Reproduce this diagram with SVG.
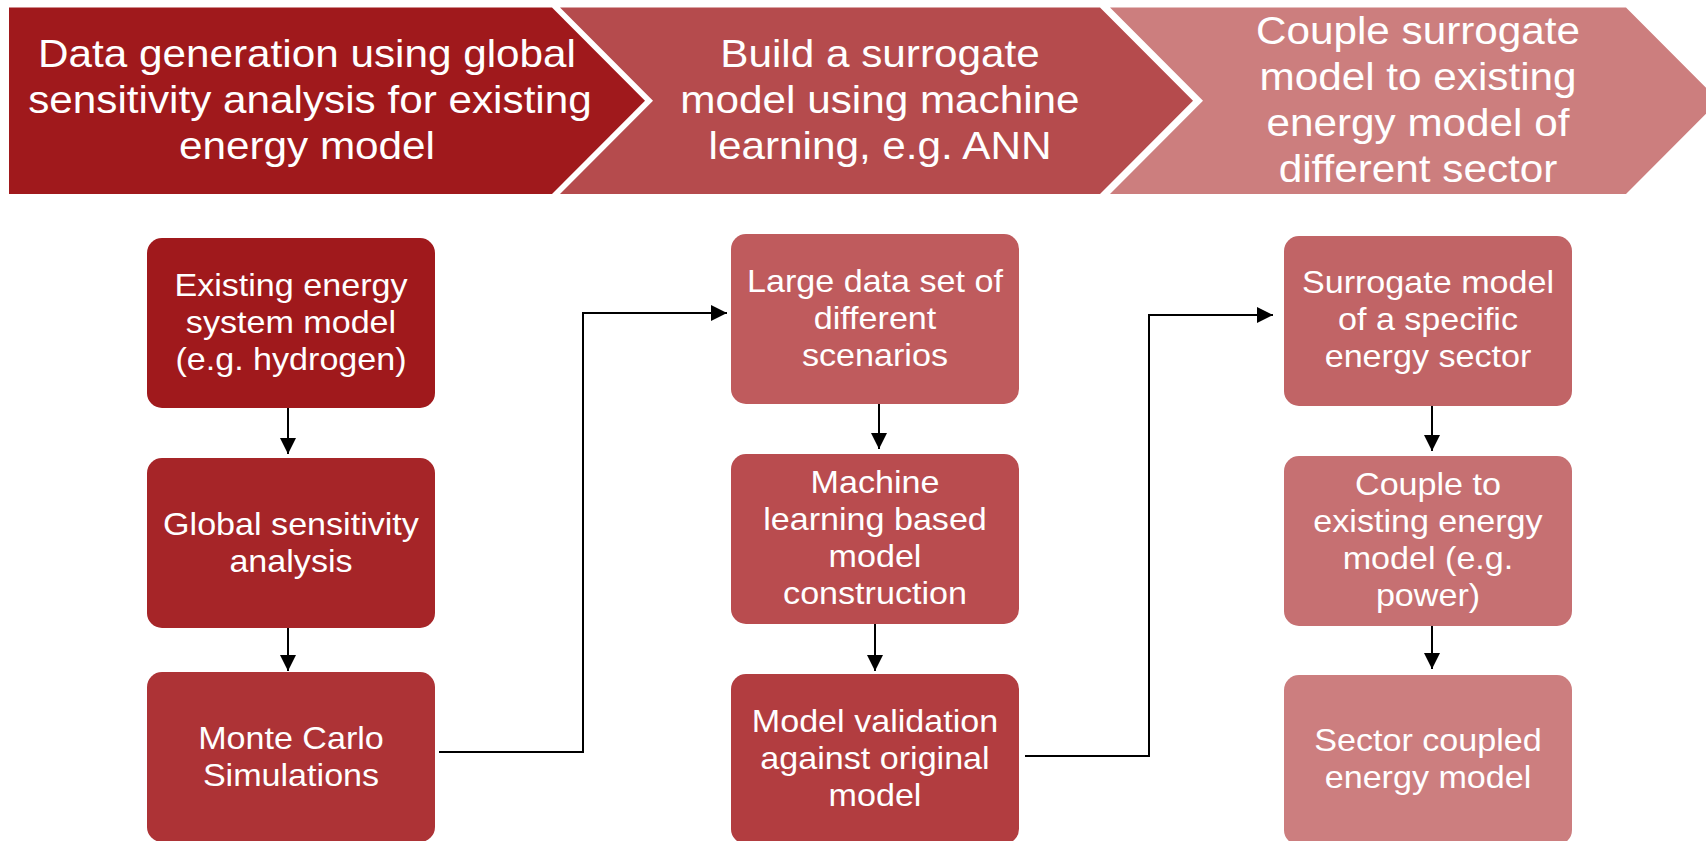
<svg xmlns="http://www.w3.org/2000/svg" width="1706" height="841" viewBox="0 0 1706 841">
  <style>
    text { font-family: "Liberation Sans", Arial, sans-serif; fill: #ffffff; text-anchor: middle; transform-box: fill-box; transform-origin: center; }
    .hdr { font-size: 39.5px; transform: scaleX(1.07); }
    .lbl { font-size: 31px; transform: scaleX(1.1); }
    .wire { fill: none; stroke: #000000; stroke-width: 2; }
  </style>
  <defs>
    <marker id="arrow" markerUnits="userSpaceOnUse" markerWidth="16" markerHeight="16" refX="16" refY="8" orient="auto">
      <path d="M0,0 L16,8 L0,16 Z" fill="#000000"/>
    </marker>
  </defs>

  <rect width="1706" height="841" fill="#ffffff"/>

  <!-- Process banner: three chevron stages -->
  <g id="stage-1">
    <path d="M9,7.5 L552,7.5 L645,100.75 L552,194 L9,194 Z" fill="#A0191C"/>
    <text class="hdr" x="307" y="67">Data generation using global</text>
    <text class="hdr" x="310" y="113">sensitivity analysis for existing</text>
    <text class="hdr" x="307" y="159">energy model</text>
  </g>
  <g id="stage-2">
    <path d="M560,7.5 L1100,7.5 L1193,100.75 L1100,194 L560,194 L653,100.75 Z" fill="#B54B4D"/>
    <text class="hdr" x="880" y="67">Build a surrogate</text>
    <text class="hdr" x="880" y="113">model using machine</text>
    <text class="hdr" x="880" y="159">learning, e.g. ANN</text>
  </g>
  <g id="stage-3">
    <path d="M1110,7.5 L1626,7.5 L1719,100.75 L1626,194 L1110,194 L1203,100.75 Z" fill="#CC7E7E"/>
    <text class="hdr" x="1418" y="44">Couple surrogate</text>
    <text class="hdr" x="1418" y="90">model to existing</text>
    <text class="hdr" x="1418" y="136">energy model of</text>
    <text class="hdr" x="1418" y="182">different sector</text>
  </g>

  <!-- Column 1 -->
  <g id="existing-model">
    <rect x="147" y="238" width="288" height="170" rx="15" fill="#A0191C"/>
    <text class="lbl" x="291" y="296">Existing energy</text>
    <text class="lbl" x="291" y="333">system model</text>
    <text class="lbl" x="291" y="370">(e.g. hydrogen)</text>
  </g>
  <g id="global-sensitivity">
    <rect x="147" y="458" width="288" height="170" rx="15" fill="#A62528"/>
    <text class="lbl" x="291" y="535">Global sensitivity</text>
    <text class="lbl" x="291" y="572">analysis</text>
  </g>
  <g id="monte-carlo">
    <rect x="147" y="672" width="288" height="170" rx="15" fill="#AD3336"/>
    <text class="lbl" x="291" y="749">Monte Carlo</text>
    <text class="lbl" x="291" y="786">Simulations</text>
  </g>

  <!-- Column 2 -->
  <g id="large-data-set">
    <rect x="731" y="234" width="288" height="170" rx="15" fill="#BF5B5D"/>
    <text class="lbl" x="875" y="292">Large data set of</text>
    <text class="lbl" x="875" y="329">different</text>
    <text class="lbl" x="875" y="366">scenarios</text>
  </g>
  <g id="ml-construction">
    <rect x="731" y="454" width="288" height="170" rx="15" fill="#B94C4F"/>
    <text class="lbl" x="875" y="493">Machine</text>
    <text class="lbl" x="875" y="530">learning based</text>
    <text class="lbl" x="875" y="567">model</text>
    <text class="lbl" x="875" y="604">construction</text>
  </g>
  <g id="model-validation">
    <rect x="731" y="674" width="288" height="170" rx="15" fill="#B23D40"/>
    <text class="lbl" x="875" y="732">Model validation</text>
    <text class="lbl" x="875" y="769">against original</text>
    <text class="lbl" x="875" y="806">model</text>
  </g>

  <!-- Column 3 -->
  <g id="surrogate-model">
    <rect x="1284" y="236" width="288" height="170" rx="15" fill="#C16466"/>
    <text class="lbl" x="1428" y="293">Surrogate model</text>
    <text class="lbl" x="1428" y="330">of a specific</text>
    <text class="lbl" x="1428" y="367">energy sector</text>
  </g>
  <g id="couple-existing">
    <rect x="1284" y="456" width="288" height="170" rx="15" fill="#C67072"/>
    <text class="lbl" x="1428" y="495">Couple to</text>
    <text class="lbl" x="1428" y="532">existing energy</text>
    <text class="lbl" x="1428" y="569">model (e.g.</text>
    <text class="lbl" x="1428" y="606">power)</text>
  </g>
  <g id="sector-coupled">
    <rect x="1284" y="675" width="288" height="170" rx="15" fill="#CC7E7F"/>
    <text class="lbl" x="1428" y="751">Sector coupled</text>
    <text class="lbl" x="1428" y="788">energy model</text>
  </g>

  <!-- Connectors -->
  <g id="connectors">
    <path class="wire" d="M288,408 L288,454" marker-end="url(#arrow)"/>
    <path class="wire" d="M288,628 L288,671" marker-end="url(#arrow)"/>
    <path class="wire" d="M439,752 L583,752 L583,313 L727,313" marker-end="url(#arrow)"/>
    <path class="wire" d="M879,404 L879,449" marker-end="url(#arrow)"/>
    <path class="wire" d="M875,624 L875,671" marker-end="url(#arrow)"/>
    <path class="wire" d="M1025,756 L1149,756 L1149,315 L1273,315" marker-end="url(#arrow)"/>
    <path class="wire" d="M1432,406 L1432,451" marker-end="url(#arrow)"/>
    <path class="wire" d="M1432,626 L1432,669" marker-end="url(#arrow)"/>
  </g>
</svg>
